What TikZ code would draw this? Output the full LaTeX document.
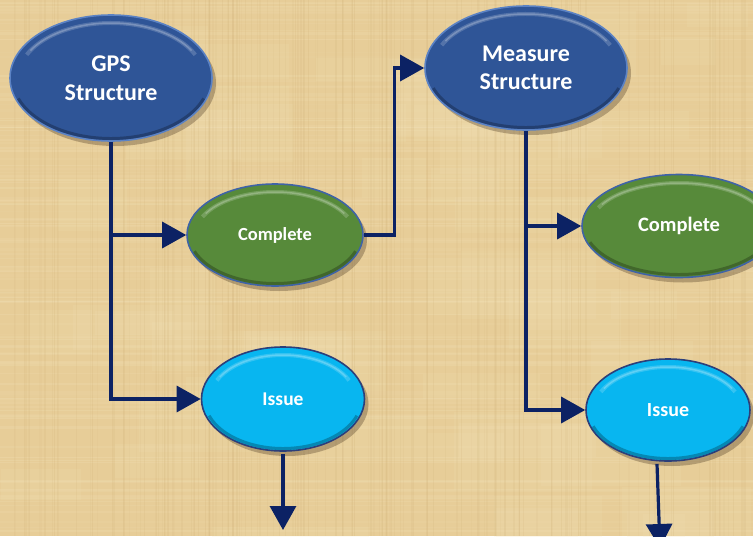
\documentclass[tikz,border=0pt]{standalone}
\usepackage{fontspec}
\setmainfont{Carlito}
\usetikzlibrary{shapes.geometric,shadows,arrows.meta}
\definecolor{bg}{HTML}{E7CD98}
\definecolor{bglight}{HTML}{F3E2B8}
\definecolor{bgdark}{HTML}{CDAE74}
\definecolor{navy}{HTML}{0C2264}
\definecolor{blueF}{HTML}{2F5597}
\definecolor{blueB}{HTML}{5B82C4}
\definecolor{greenF}{HTML}{578A3A}
\definecolor{greenB}{HTML}{3F63A6}
\definecolor{cyanF}{HTML}{08B6F0}
\definecolor{cyanB}{HTML}{2C3F7A}
\tikzset{
  oval/.style={ellipse, inner sep=0pt, line width=1.6pt, text=white,
    font=\bfseries, align=center,
    drop shadow={shadow xshift=4pt, shadow yshift=-5pt, opacity=0.3, fill=black!70!brown}},
  conn/.style={draw=navy, line width=3.2pt},
  arr/.style={conn, -{Triangle[length=24pt,width=26pt]}},
}
% gloss: center, x radius, y radius
\newcommand\glossy[3]{%
  \begin{scope}
    \clip (#1) ellipse [x radius=#2pt, y radius=#3pt];
    \draw[black, opacity=0.25, line width=6pt] (#1) ++(200:#2pt and #3pt)
      arc[start angle=200, end angle=340, x radius=#2pt, y radius=#3pt];
    \draw[white, opacity=0.18, line width=4pt] (#1) ++(155:{#2pt-7pt} and {#3pt-7pt})
      arc[start angle=155, end angle=25, x radius={#2pt-7pt}, y radius={#3pt-7pt}];
    \draw[white, opacity=0.22, line width=1.5pt] (#1) ++(150:{#2pt-7pt} and {#3pt-7pt})
      arc[start angle=150, end angle=30, x radius={#2pt-7pt}, y radius={#3pt-7pt}];
  \end{scope}}
\begin{document}
\begin{tikzpicture}[x=1pt,y=-1pt]
\useasboundingbox (0,0) rectangle (753,536);
\fill[bg] (0,0) rectangle (753,536);
\begin{scope}
\clip (0,0) rectangle (753,536);
\pgfmathsetseed{11}
\foreach \i in {1,...,60}{
  \pgfmathsetmacro\xx{rnd*753}\pgfmathsetmacro\yy{rnd*536}
  \pgfmathsetmacro\ww{40+rnd*120}\pgfmathsetmacro\hh{20+rnd*60}
  \fill[bglight, opacity=0.15] (\xx,\yy) rectangle ++(\ww,\hh);}
\foreach \i in {1,...,140}{
  \pgfmathsetmacro\yy{rnd*536}\pgfmathsetmacro\op{0.08+0.18*rnd}\pgfmathsetmacro\lw{0.6+rnd*2}
  \draw[bglight, opacity=\op, line width=\lw pt] (0,\yy) -- (753,\yy);}
\foreach \i in {1,...,160}{
  \pgfmathsetmacro\xx{rnd*753}\pgfmathsetmacro\op{0.06+0.12*rnd}\pgfmathsetmacro\lw{0.5+rnd*1.5}
  \draw[bgdark, opacity=\op, line width=\lw pt] (\xx,0) -- (\xx,536);}
\end{scope}

% nodes
\node[oval, fill=blueF, draw=blueB, minimum width=202pt, minimum height=126pt,
  font=\bfseries\fontsize{24}{29}\selectfont] (gps) at (111,78) {GPS\\Structure};
\glossy{111,78}{100}{62}
\node[oval, fill=blueF, draw=blueB, minimum width=202pt, minimum height=124pt,
  font=\bfseries\fontsize{24}{28}\selectfont] (meas) at (526,68) {Measure\\Structure};
\glossy{526,68}{100}{61}
\node[oval, fill=greenF, draw=greenB, minimum width=176pt, minimum height=102pt,
  font=\bfseries\fontsize{18.5}{20}\selectfont] (cmp1) at (275,235) {Complete};
\glossy{275,235}{87}{50}
\node[oval, fill=greenF, draw=greenB, minimum width=194pt, minimum height=103pt,
  font=\bfseries\fontsize{20.5}{22}\selectfont] (cmp2) at (679,226) {Complete};
\glossy{679,226}{96}{50}
\node[oval, fill=cyanF, draw=cyanB, minimum width=163pt, minimum height=104pt,
  font=\bfseries\fontsize{19.5}{22}\selectfont] (iss1) at (283,399) {Issue};
\glossy{283,399}{80}{51}
\node[oval, fill=cyanF, draw=cyanB, minimum width=164pt, minimum height=102pt,
  font=\bfseries\fontsize{20}{22}\selectfont] (iss2) at (668,410) {Issue};
\glossy{668,410}{81}{50}

% connectors
\coordinate (end1) at (283,530);
\coordinate (end2) at (660,548);
\draw[arr] (gps.south) |- (iss1.west);
\draw[arr] (gps.south |- cmp1.west) -- (cmp1.west);
\draw[arr] (cmp1.east) -- ++(31,0) |- (meas.west);
\draw[arr] (meas.south) |- (iss2.west);
\draw[arr] (meas.south |- cmp2.west) -- (cmp2.west);
\draw[arr] ([yshift=-2pt]iss1.south) -- (end1);
\draw[arr] ([xshift=-11pt,yshift=-2pt]iss2.south) -- (end2);
\end{tikzpicture}
\end{document}
